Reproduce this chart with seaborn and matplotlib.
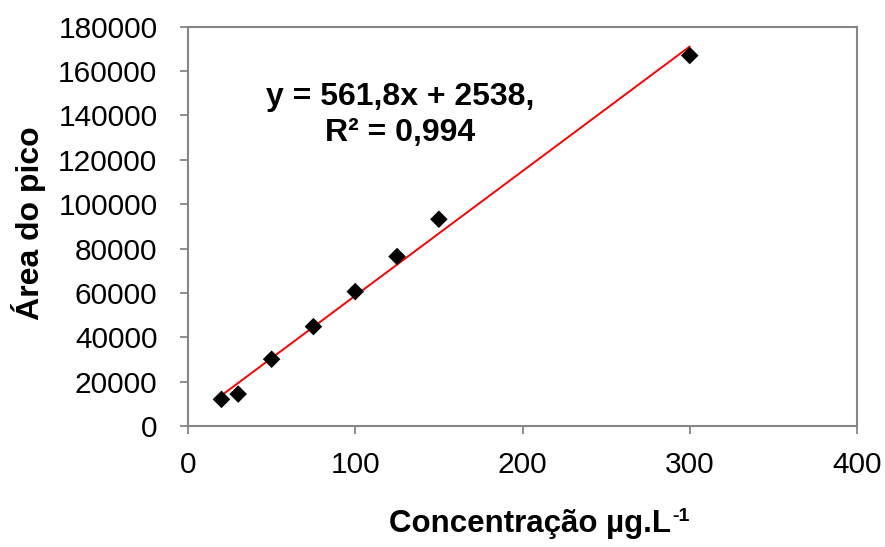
import matplotlib
matplotlib.use("Agg")
import matplotlib.pyplot as plt
import seaborn as sns
import numpy as np
import pandas as pd

# Calibration data: concentration (µg/L) vs. peak area
concentracao = [20, 30, 50, 75, 100, 125, 150, 300]
area_pico = [12000, 14400, 30100, 44800, 60600, 76400, 93200, 167000]

# Linear fit reported for the calibration
slope = 561.8
intercept = 2538
r2 = 0.994

x_ticks = [0, 100, 200, 300, 400]
y_ticks = list(range(0, 180001, 20000))

sns.set_theme(style="white")
plt.rcParams["font.family"] = ["Liberation Sans", "DejaVu Sans"]
plt.rcParams["text.color"] = "black"

fig = plt.figure(figsize=(8.85, 5.47), dpi=100)
ax = fig.add_axes([188 / 885, 1 - 426 / 547, (857 - 188) / 885, (426 - 26.7) / 547])

df = pd.DataFrame({"x": concentracao, "y": area_pico})
x_fit = np.array([min(concentracao), max(concentracao)], dtype=float)
fit = pd.DataFrame({"x": x_fit, "y": slope * x_fit + intercept})

sns.lineplot(data=fit, x="x", y="y", ax=ax, color="#ff0000", linewidth=1.4, zorder=2)
sns.scatterplot(data=df, x="x", y="y", ax=ax, marker="D", s=80, color="black",
                edgecolor="none", zorder=3)

ax.set_xlim(0, 400)
ax.set_ylim(0, 180000)
ax.set_xticks(x_ticks)
ax.set_yticks(y_ticks)
ax.set_xticklabels([str(v) for v in x_ticks])
ax.set_yticklabels([str(v) for v in y_ticks])
ax.set_xlabel("")
ax.set_ylabel("")

gray = "#868686"
for sp in ax.spines.values():
    sp.set_visible(True)
    sp.set_color(gray)
    sp.set_linewidth(1.5)

ax.tick_params(axis="both", which="major", direction="out", length=6, width=1.3,
               color=gray, labelsize=21.5, labelcolor="black")
ax.tick_params(axis="x", pad=12, bottom=True)
ax.tick_params(axis="y", pad=16, left=True)

ax.text(126.8, 140300, f"y = {slope:.1f}x + {intercept},\nR² = {r2:.3f}".replace(".", ","),
        ha="center", va="center", fontsize=23, fontweight="bold",
        linespacing=1.25, color="black")

# x-axis title with a small bold "-1" superscript after it
xt = fig.text(530 / 885, 1 - 532 / 547, "Concentração µg.L",
              ha="center", va="baseline", fontsize=22.5, fontweight="bold", color="black")
ax.annotate("-1", xy=(1.0, 0.0), xycoords=xt, xytext=(1, 13), textcoords="offset points",
            ha="left", va="baseline", fontsize=14, fontweight="bold", color="black",
            annotation_clip=False)

fig.text(29 / 885, 1 - 223 / 547, "Área do pico", rotation=90,
         ha="center", va="center", fontsize=23, fontweight="bold", color="black")

fig.savefig("out.png", dpi=100, facecolor="white")
